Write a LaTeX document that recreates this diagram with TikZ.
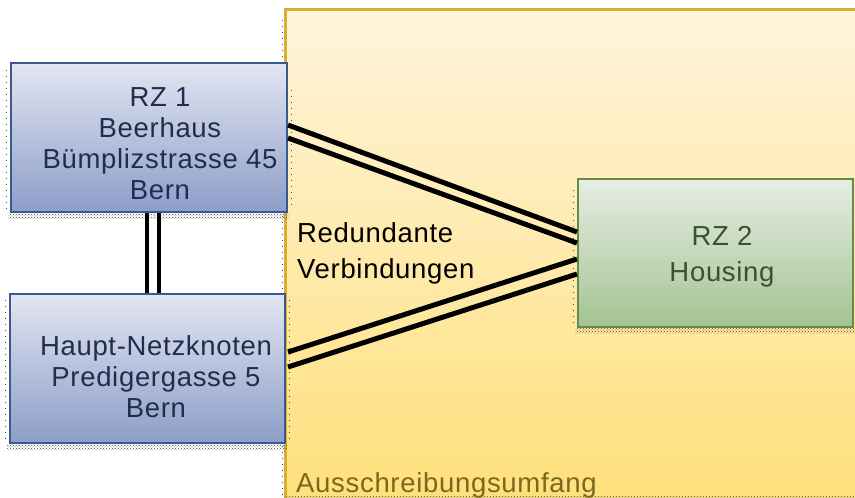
\documentclass[tikz,border=0pt]{standalone}
\usepackage{fontspec}
\setmainfont{Liberation Sans}[LetterSpace=2.5]
\usetikzlibrary{patterns}

\definecolor{zoneTop}{HTML}{FFF4DC}
\definecolor{zoneBot}{HTML}{FFE07C}
\definecolor{zoneEdge}{HTML}{D8AE32}
\definecolor{blueTop}{HTML}{E3E6F2}
\definecolor{blueBot}{HTML}{8C9DC8}
\definecolor{blueEdge}{HTML}{3A5A8E}
\definecolor{greenTop}{HTML}{E7EDE3}
\definecolor{greenBot}{HTML}{A3C393}
\definecolor{greenEdge}{HTML}{668A48}
\definecolor{navyText}{HTML}{1F2E4E}
\definecolor{greenText}{HTML}{3A5230}
\definecolor{oliveText}{HTML}{7A681C}

\tikzset{
  sitebox/.style={rectangle, inner sep=0pt, line width=2pt},
  bluebox/.style={sitebox, draw=blueEdge, top color=blueTop, bottom color=blueBot},
  greenbox/.style={sitebox, draw=greenEdge, top color=greenTop, bottom color=greenBot},
  zonebox/.style={rectangle, inner sep=0pt, top color=zoneTop, bottom color=zoneBot},
  boxtext/.style={inner sep=0pt, align=center, font=\fontsize{27.5}{31}\selectfont},
  link/.style={line width=5pt, black},
  shadowband/.style={pattern=crosshatch dots, pattern color=black!70},
  shadowdots/.style={black!70, line width=1pt, dash pattern=on 1pt off 5pt}
}

\begin{document}
\begin{tikzpicture}[x=1pt, y=-1pt]
\useasboundingbox (0,0) rectangle (855,498);
\clip (0,0) rectangle (855,498);

% tender scope area
\node[zonebox, minimum width=586pt, minimum height=488pt] (zone) at (579,254) {};
\draw[zoneEdge, line width=3pt] (zone.north east) -- (zone.north west) -- (zone.south west);
\draw[shadowdots] (282,20) -- (282,62);
\draw[shadowdots] (282,216) -- (282,292);
\draw[shadowdots] (282,446) -- (282,498);
\fill[shadowband] (286,496) rectangle (855,499);

% drop shadows of the site boxes
\fill[shadowband] (8,213) rectangle (289,218);
\draw[shadowdots] (6,70) -- (6,212);
\draw[shadowdots] (291,90) -- (291,210);
\fill[shadowband] (7,444) rectangle (287,449);
\draw[shadowdots] (5,300) -- (5,442);
\draw[shadowdots] (289,300) -- (289,440);
\fill[shadowband] (575,328) rectangle (855,333);
\draw[shadowdots] (573,190) -- (573,326);

% site boxes
\node[bluebox, minimum width=276pt, minimum height=149pt] (rz1) at (149,137.5) {};
\node[bluebox, minimum width=275pt, minimum height=149pt] (hk) at (147.5,368.5) {};
\node[greenbox, minimum width=275pt, minimum height=148pt] (rz2) at (715.5,253) {};

% box labels
\node[boxtext, text=navyText] (rz1t) at (160,144) {RZ 1\\Beerhaus\\Bümplizstrasse 45\\Bern};
\node[boxtext, text=navyText] (hkt) at (156,376.5) {Haupt-Netzknoten\\Predigergasse 5\\Bern};
\node[boxtext, text=greenText, font=\fontsize{27.5}{36.5}\selectfont] (rz2t) at (722,256.5) {RZ 2\\Housing};

% redundant links
\draw[link, line width=4pt] ([xshift=-2pt]rz1.south) -- ([xshift=-0.5pt]hk.north);
\draw[link, line width=4pt] ([xshift=9.5pt]rz1.south) -- ([xshift=11pt]hk.north);
\draw[link] ([yshift=12.5pt]rz1.east) -- ([yshift=21pt]rz2.west);
\draw[link] ([yshift=-0.5pt]rz1.east) -- ([yshift=10pt]rz2.west);
\draw[link] ([xshift=2pt,yshift=16.5pt]hk.east) -- ([yshift=-6pt]rz2.west);
\draw[link] ([xshift=2pt,yshift=1.5pt]hk.east) -- ([yshift=-21pt]rz2.west);

% free labels
\node[inner sep=0pt, anchor=north west, align=left, font=\fontsize{27.5}{36}\selectfont] (redund) at (297,222) {Redundante\\Verbindungen};
\node[inner sep=0pt, anchor=base west, text=oliveText, font=\fontsize{27.5}{31}\selectfont] (scope) at (296,492) {Ausschreibungsumfang};
\end{tikzpicture}
\end{document}
